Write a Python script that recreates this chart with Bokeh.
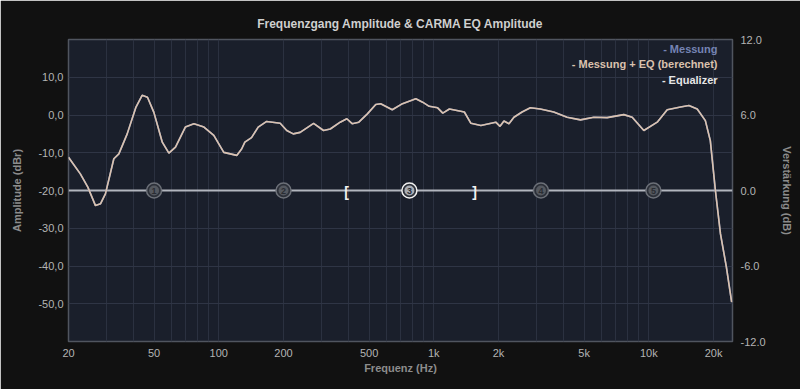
from bokeh.plotting import figure
from bokeh.models import Range1d, LinearAxis, FixedTicker, Label
from bokeh.embed import file_html
from bokeh.resources import INLINE
from bokeh.core.properties import value

# ---------------- data ----------------
freq_hz = [20, 22.7, 24.6, 26.7, 28.2, 29.7, 32.5, 34.3, 37.5, 41.2, 44.0, 46.6, 49.9,
           54.6, 58.6, 62.9, 69.9, 76.6, 85.3, 94.8, 105.5, 121.2, 127.7, 132.2, 142,
           152.5, 167, 193, 207, 222, 239, 276, 307, 330, 367, 394, 417, 448, 491, 537,
           566, 641, 715, 825, 887, 952, 1042, 1101, 1182, 1387, 1488, 1655, 1942, 2032,
           2120, 2236, 2359, 2573, 2812, 3127, 3612, 4167, 4810, 5550, 6400, 7650, 8370,
           9480, 10940, 12180, 14050, 15360, 16790, 18320, 19320, 20400, 21540, 22950, 24280]
amp_dbr = [-11.2, -15.6, -19.1, -24.0, -23.5, -20.9, -11.6, -10.3, -5.0, 2.1, 5.2, 4.7, 0.7,
           -7.2, -10.1, -8.5, -3.2, -2.3, -3.2, -5.4, -9.9, -10.7, -9.0, -7.2, -6.0,
           -3.2, -1.7, -2.2, -4.1, -5.0, -4.6, -2.2, -4.1, -3.7, -1.9, -1.0, -2.3, -1.9, 0.3, 2.8,
           3.0, 1.4, 3.0, 4.3, 3.4, 2.3, 1.9, 0.5, 1.6, 0.8, -2.2, -2.8, -1.9, -3.0,
           -1.6, -2.3, -0.6, 0.8, 1.9, 1.6, 0.8, -0.6, -1.3, -0.6, -0.7, 0.1, -0.6,
           -4.1, -1.9, 1.4, 2.1, 2.5, 1.6, -1.5, -6.8, -20.0, -31.5, -40.3, -49.6]

eq_freq_hz = [20, 24500]
eq_gain_db = [0.0, 0.0]

filter_freq_hz = [50, 200, 770, 3150, 10500]
filter_gain_db = [0.0, 0.0, 0.0, 0.0, 0.0]
filter_labels = ["1", "2", "3", "4", "5"]
selected_filter = 2
band_edges_hz = [393, 1546]
band_gain_db = [0.0, 0.0]
band_marks = ["[", "]"]

x_ticks = [20, 50, 100, 200, 500, 1000, 2000, 5000, 10000, 20000]
x_tick_labels = ["20", "50", "100", "200", "500", "1k", "2k", "5k", "10k", "20k"]
x_grid = [20, 30, 40, 50, 60, 70, 80, 90, 100, 200, 300, 400, 500, 600, 700, 800, 900,
          1000, 2000, 3000, 4000, 5000, 6000, 7000, 8000, 9000, 10000, 20000]
left_ticks = [10, 0, -10, -20, -30, -40, -50]
left_tick_labels = ["10,0", "0,0", "-10,0", "-20,0", "-30,0", "-40,0", "-50,0"]
right_ticks = [12, 6, 0, -6, -12]
right_tick_labels = ["12.0", "6.0", "0.0", "-6.0", "-12.0"]

legend_labels = ["- Messung", "- Messung + EQ (berechnet)", "- Equalizer"]
legend_colors = ["#7584b4", "#dac2ae", "#e6e6e6"]

FONT = "Liberation Sans"
BG = "#111111"

# ---------------- figure ----------------
p = figure(width=800, height=389, x_axis_type="log",
           x_range=Range1d(20, 24500), y_range=Range1d(-60, 20),
           output_backend="svg", toolbar_location=None,
           min_border_left=68, min_border_right=68, min_border_top=39, min_border_bottom=48,
           title="Frequenzgang Amplitude & CARMA EQ Amplitude")
p.extra_y_ranges = {"eq": Range1d(-12, 12)}

p.background_fill_color = "#1a1f2b"
p.border_fill_color = BG
p.outline_line_color = "#50555f"
p.outline_line_width = 1.5

p.title.align = "center"
p.title.text_color = "#cfcfcf"
p.title.text_font = FONT
p.title.text_font_size = "12px"
p.title.text_font_style = "bold"
p.title.standoff = 17

# x axis
xa = p.xaxis[0]
xa.ticker = FixedTicker(ticks=x_ticks)
xa.major_label_overrides = {t: l for t, l in zip(x_ticks, x_tick_labels)}
xa.axis_label = "Frequenz (Hz)"
xa.major_label_standoff = 5
xa.axis_label_standoff = 0

# left axis
ya = p.yaxis[0]
ya.ticker = FixedTicker(ticks=left_ticks)
ya.major_label_overrides = {t: l for t, l in zip(left_ticks, left_tick_labels)}
ya.axis_label = "Amplitude (dBr)"
ya.major_label_standoff = 5
ya.axis_label_standoff = 12

# right axis
ra = LinearAxis(y_range_name="eq", ticker=FixedTicker(ticks=right_ticks),
                axis_label="Verstärkung (dB)")
ra.major_label_overrides = {t: l for t, l in zip(right_ticks, right_tick_labels)}
ra.major_label_standoff = 8
ra.axis_label_standoff = 12
p.add_layout(ra, "right")

for ax in (xa, ya, ra):
    ax.axis_line_color = None
    ax.major_tick_line_color = None
    ax.minor_tick_line_color = None
    ax.major_tick_out = 0
    ax.major_tick_in = 0
    ax.major_label_text_color = "#b4b4b4"
    ax.major_label_text_font = FONT
    ax.major_label_text_font_size = "11px"
    ax.axis_label_text_color = "#8c8c8c"
    ax.axis_label_text_font = FONT
    ax.axis_label_text_font_size = "11px"
    ax.axis_label_text_font_style = "bold"

p.xgrid.ticker = FixedTicker(ticks=x_grid)
p.xgrid.grid_line_color = "#2b3140"
p.ygrid.ticker = FixedTicker(ticks=left_ticks)
p.ygrid.grid_line_color = "#2f3545"

# equalizer line
p.line(eq_freq_hz, eq_gain_db, y_range_name="eq", line_color="#b2b6be", line_width=2)

# filter markers
n = len(filter_freq_hz)
ring = ["#f0f0f0" if i == selected_filter else "#6c7078" for i in range(n)]
fill = ["#a8acb3" if i == selected_filter else "#555960" for i in range(n)]
p.scatter(filter_freq_hz, filter_gain_db, y_range_name="eq", size=15,
          fill_color="#2c3039", line_color=ring, line_width=1.5)
p.scatter(filter_freq_hz, filter_gain_db, y_range_name="eq", size=10,
          fill_color=fill, line_color=None)
p.text(filter_freq_hz, filter_gain_db, text=filter_labels, y_range_name="eq",
       text_align="center", text_baseline="middle", text_font=value(FONT),
       text_font_size="9px", text_font_style="bold", text_color="#2a2d33")

# band edges of selected filter
p.text(band_edges_hz, band_gain_db, text=band_marks, y_range_name="eq",
       text_align="center", text_baseline="middle", text_font=value(FONT),
       text_font_size="14px", text_font_style="bold", text_color="#f2f2f2",
       y_offset=1)

# curves
p.line(freq_hz, amp_dbr, line_color=legend_colors[0], line_width=1.6)
p.line(freq_hz, amp_dbr, line_color=legend_colors[1], line_width=1.6)

# legend texts
for lbl, col, yv in zip(legend_labels, legend_colors, [17.6, 13.4, 9.4]):
    p.add_layout(Label(x=20870, y=yv, text=lbl, text_color=col, text_align="right",
                       text_baseline="middle", text_font=FONT, text_font_size="11px",
                       text_font_style="bold"))

open("out.html", "w").write(file_html(p, INLINE))
